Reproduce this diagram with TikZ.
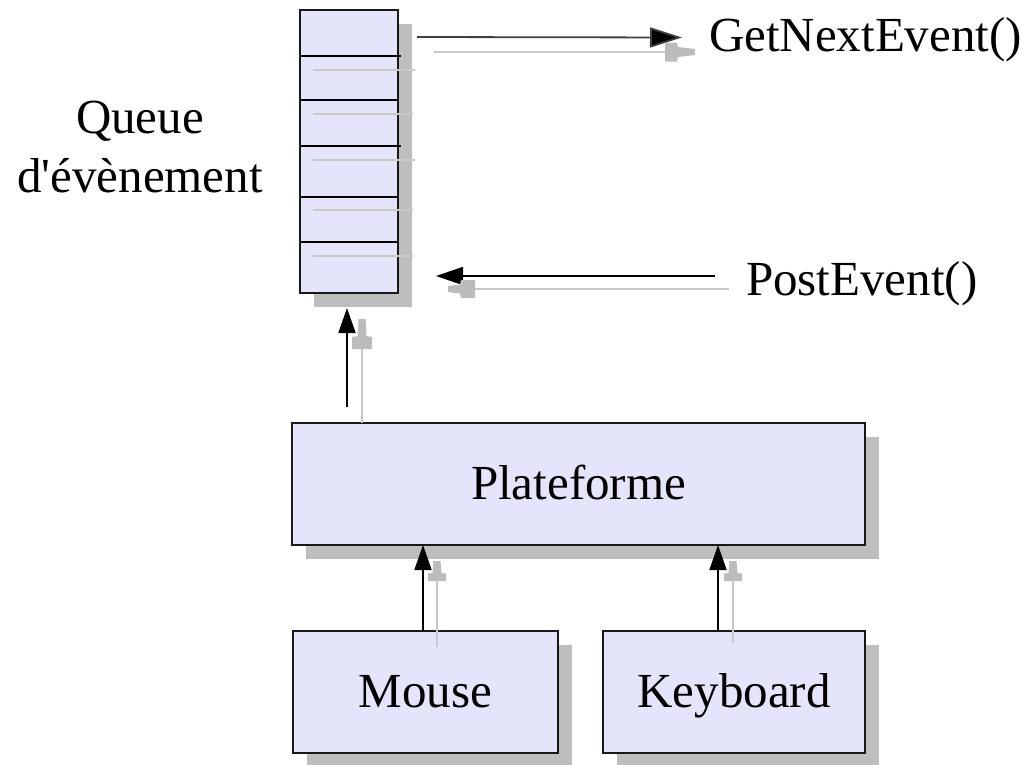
\documentclass[tikz,border=0pt]{standalone}
\usepackage{fontspec}
\newfontfamily\lser{Liberation Serif}
\usetikzlibrary{arrows.meta,shadows}
\definecolor{boxfill}{RGB}{228,228,251}
\definecolor{shadowgray}{RGB}{190,190,190}
\definecolor{ghostline}{RGB}{200,200,200}
\definecolor{ghosthead}{RGB}{188,188,188}
\tikzset{
  lbl/.style={font=\lser\fontsize{49}{59}\selectfont, inner sep=0pt, outer sep=0pt},
  box/.style={lbl, draw=black!90, line width=2pt, fill=boxfill, text height=33pt, text depth=2pt,
    drop shadow={shadow xshift=14pt, shadow yshift=-14pt, fill=shadowgray, opacity=1}},
  blk/.style={draw=black, line width=1.8pt, -{Triangle[length=25pt,width=17pt]}},
  ghost/.style={draw=ghostline, line width=2pt},
  divider/.style={draw=black, line width=2pt},
  gup/.pic={\fill[ghosthead] (-3.5,0) -- (3.5,0) -- (4.5,12) -- (9,12.5) -- (9,20) -- (-9,20) -- (-9,12.5) -- (-4.5,12) -- cycle;},
  gupL/.pic={\fill[ghosthead] (-3.5,0) -- (3.5,0) -- (4.5,17) -- (10,18) -- (10,30) -- (-10,30) -- (-10,18) -- (-4.5,17) -- cycle;},
  gright/.pic={\fill[ghosthead] (0,-3) -- (0,3) -- (-17,5) -- (-18,9.5) -- (-30,9.5) -- (-30,-9.5) -- (-18,-9.5) -- (-17,-5) -- cycle;},
  gleft/.pic={\fill[ghosthead] (0,-3) -- (0,3) -- (12,4.5) -- (13,9) -- (27,9) -- (27,-9) -- (13,-9) -- (12,-4.5) -- cycle;},
}
\begin{document}
\begin{tikzpicture}[x=1pt,y=-1pt]
\useasboundingbox (0,0) rectangle (1028,764);

% queue of events
\node[box, minimum width=98pt, minimum height=283pt] (q) at (349,151) {};
\foreach \yy in {100,197,242} \draw[divider] (300,\yy) -- (398,\yy);
\foreach \yy in {56,146} \draw[divider] (300,\yy) -- (401,\yy);
\foreach \yy/\xe in {70/415,114/413,160/415,210/413,256/413} \draw[ghost, line width=1.5pt] (313,\yy) -- (\xe,\yy);

\node[lbl, anchor=base] (ql1) at (140,133) {Queue};
\node[lbl, anchor=base] (ql2) at (140,192) {d'évènement};

% boxes
\node[box, minimum width=573pt, minimum height=122pt] (p) at (578.5,484) {Plateforme};
\node[box, minimum width=265pt, minimum height=122pt] (m) at (425.5,692) {Mouse};
\node[box, minimum width=262pt, minimum height=122pt] (k) at (734,692) {Keyboard};

% labels
\node[lbl, anchor=base west] (gne) at (709,51) {GetNextEvent()};
\node[lbl, anchor=base west] (pe) at (746,295) {PostEvent()};

% GetNextEvent arrow
\coordinate (gs) at (417,37);
\coordinate (ge) at (682,37.5);
\draw[blk, draw=black!75, -{Triangle[length=32pt,width=20pt,fill=black]}] (gs) -- (ge);
\coordinate (gs2) at (434,52);
\coordinate (ge2) at (695,52);
\draw[ghost] (gs2) -- ([xshift=-28pt]ge2);
\pic at (ge2) {gright};

% PostEvent arrow
\coordinate (ps) at (715,276);
\coordinate (pt) at (436,276);
\draw[blk, -{Triangle[length=27pt,width=18pt]}] (ps) -- (pt);
\coordinate (ps2) at (729,289);
\coordinate (pt2) at (448,289);
\draw[ghost] (ps2) -- ([xshift=25pt]pt2);
\pic at (pt2) {gleft};

% Plateforme -> queue
\coordinate (qa) at (347,407);
\draw[blk] (qa) -- ([shift={(-2,15.5)}]q.south);
\coordinate (qg) at (362,319);
\draw[ghost] ([shift={(-216.5,0)}]p.north) -- ([yshift=-28pt]qg);
\pic at (qg) {gupL};

% Mouse -> Plateforme
\draw[blk] ([xshift=-2.5pt]m.north) -- ([xshift=-155.5pt]p.south);
\coordinate (mg) at (437,561);
\draw[ghost] (437,647) -- ([yshift=-18pt]mg);
\pic at (mg) {gup};

% Keyboard -> Plateforme
\draw[blk] ([xshift=-16pt]k.north) -- ([xshift=139.5pt]p.south);
\coordinate (kg) at (733,561);
\draw[ghost] (733,643) -- ([yshift=-18pt]kg);
\pic at (kg) {gup};
\end{tikzpicture}
\end{document}
